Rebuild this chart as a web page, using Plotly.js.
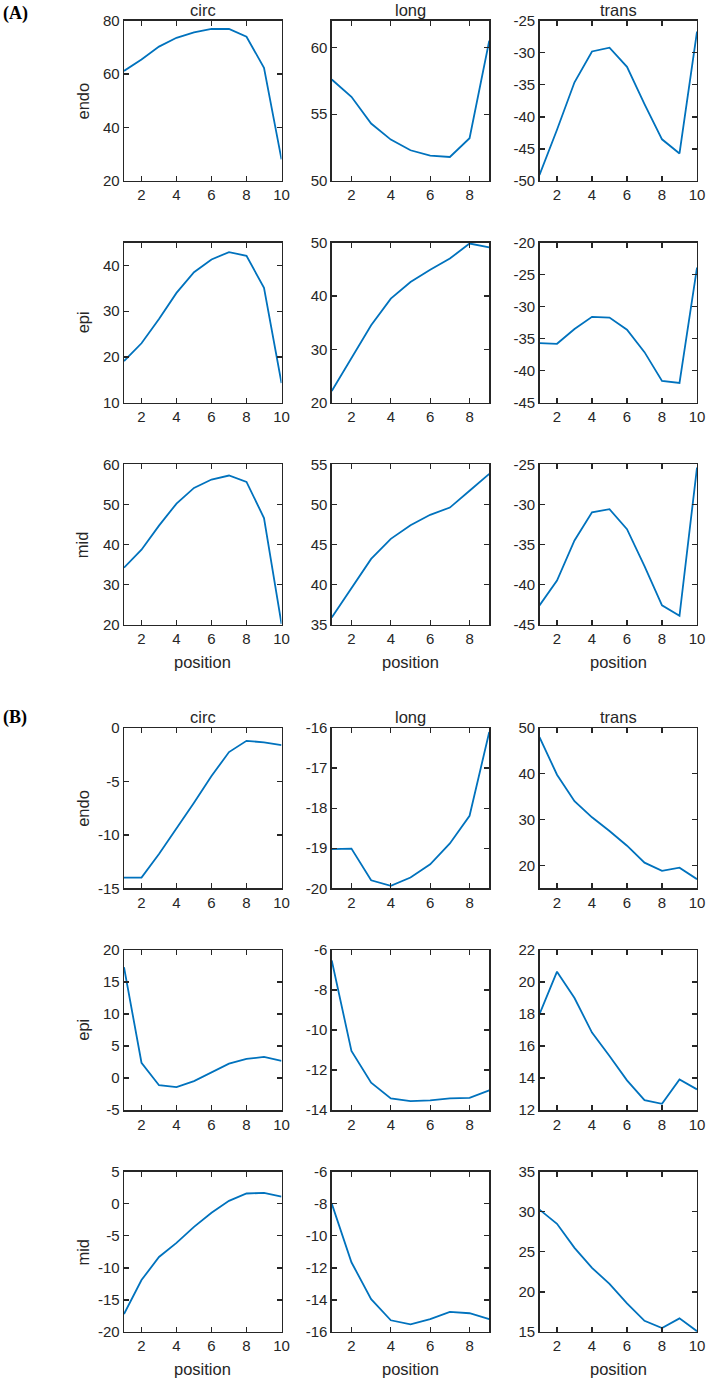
<!DOCTYPE html>
<html>
<head>
<meta charset="utf-8">
<script src="https://cdn.plot.ly/plotly-3.0.1.min.js"></script>
<style>html,body{margin:0;padding:0;background:#fff}</style>
</head>
<body>
<div id="chart" style="width:709px;height:1381px"></div>
<script>
// ---------- data ----------
const pos10 = [1, 2, 3, 4, 5, 6, 7, 8, 9, 10];
const pos9 = [1, 2, 3, 4, 5, 6, 7, 8, 9];

const columnNames = ["circ", "long", "trans"];
const rowNames = ["endo", "epi", "mid"];
const panelLabels = ["(A)", "(B)"];
const xLabel = "position";

// Panel (A)
const A_endo_circ  = [61.2, 65.5, 70.3, 73.6, 75.6, 76.9, 76.9, 74.0, 62.4, 28.1];
const A_endo_long  = [57.6, 56.3, 54.3, 53.1, 52.3, 51.9, 51.8, 53.2, 60.5];
const A_endo_trans = [-49.05, -42.0, -34.6, -29.8, -29.2, -32.2, -38.0, -43.5, -45.7, -26.7];
const A_epi_circ   = [19.1, 23.0, 28.3, 34.0, 38.5, 41.3, 42.9, 42.1, 35.1, 14.3];
const A_epi_long   = [22.2, 28.4, 34.5, 39.5, 42.6, 44.9, 47.0, 49.8, 49.1];
const A_epi_trans  = [-35.7, -35.8, -33.5, -31.6, -31.7, -33.6, -37.1, -41.6, -41.9, -23.9];
const A_mid_circ   = [34.2, 38.7, 44.7, 50.2, 54.1, 56.2, 57.2, 55.6, 46.6, 20.2];
const A_mid_long   = [35.9, 39.6, 43.2, 45.7, 47.4, 48.7, 49.6, 51.7, 53.8];
const A_mid_trans  = [-42.6, -39.5, -34.5, -31.0, -30.6, -33.1, -37.7, -42.6, -43.9, -25.4];

// Panel (B)
const B_endo_circ  = [-14.0, -14.0, -11.8, -9.45, -7.0, -4.5, -2.25, -1.2, -1.35, -1.6];
const B_endo_long  = [-19.02, -19.01, -19.8, -19.94, -19.73, -19.4, -18.88, -18.19, -16.1];
const B_endo_trans = [48.0, 39.8, 34.0, 30.5, 27.5, 24.3, 20.6, 18.8, 19.5, 17.0];
const B_epi_circ   = [17.3, 2.4, -1.1, -1.4, -0.46, 0.95, 2.25, 3.0, 3.3, 2.7];
const B_epi_long   = [-6.53, -11.04, -12.63, -13.41, -13.55, -13.51, -13.41, -13.38, -13.01];
const B_epi_trans  = [17.99, 20.64, 19.0, 16.84, 15.38, 13.86, 12.63, 12.4, 13.92, 13.3];
const B_mid_circ   = [-17.2, -11.9, -8.3, -6.1, -3.6, -1.4, 0.45, 1.6, 1.7, 1.1];
const B_mid_long   = [-7.99, -11.65, -13.95, -15.27, -15.52, -15.2, -14.74, -14.83, -15.2];
const B_mid_trans  = [30.27, 28.5, 25.5, 23.0, 21.0, 18.56, 16.4, 15.5, 16.7, 15.1];

// x ticks
const xTicks10 = [2, 4, 6, 8, 10];
const xTicks9 = [2, 4, 6, 8];

// y axis limits and ticks per panel
const yLim_A_endo_circ = [20, 80],   yTicks_A_endo_circ = [20, 40, 60, 80];
const yLim_A_endo_long = [50, 62],   yTicks_A_endo_long = [50, 55, 60];
const yLim_A_endo_trans = [-50, -25], yTicks_A_endo_trans = [-50, -45, -40, -35, -30, -25];
const yLim_A_epi_circ = [10, 45],    yTicks_A_epi_circ = [10, 20, 30, 40];
const yLim_A_epi_long = [20, 50],    yTicks_A_epi_long = [20, 30, 40, 50];
const yLim_A_epi_trans = [-45, -20], yTicks_A_epi_trans = [-45, -40, -35, -30, -25, -20];
const yLim_A_mid_circ = [20, 60],    yTicks_A_mid_circ = [20, 30, 40, 50, 60];
const yLim_A_mid_long = [35, 55],    yTicks_A_mid_long = [35, 40, 45, 50, 55];
const yLim_A_mid_trans = [-45, -25], yTicks_A_mid_trans = [-45, -40, -35, -30, -25];
const yLim_B_endo_circ = [-15, 0],   yTicks_B_endo_circ = [-15, -10, -5, 0];
const yLim_B_endo_long = [-20, -16], yTicks_B_endo_long = [-20, -19, -18, -17, -16];
const yLim_B_endo_trans = [15, 50],  yTicks_B_endo_trans = [20, 30, 40, 50];
const yLim_B_epi_circ = [-5, 20],    yTicks_B_epi_circ = [-5, 0, 5, 10, 15, 20];
const yLim_B_epi_long = [-14, -6],   yTicks_B_epi_long = [-14, -12, -10, -8, -6];
const yLim_B_epi_trans = [12, 22],   yTicks_B_epi_trans = [12, 14, 16, 18, 20, 22];
const yLim_B_mid_circ = [-20, 5],    yTicks_B_mid_circ = [-20, -15, -10, -5, 0, 5];
const yLim_B_mid_long = [-16, -6],   yTicks_B_mid_long = [-16, -14, -12, -10, -8, -6];
const yLim_B_mid_trans = [15, 35],   yTicks_B_mid_trans = [15, 20, 25, 30, 35];

// ---------- panel table (row-major: 6 rows x 3 cols) ----------
const panels = [
  [pos10, A_endo_circ, yLim_A_endo_circ, yTicks_A_endo_circ],
  [pos9,  A_endo_long, yLim_A_endo_long, yTicks_A_endo_long],
  [pos10, A_endo_trans, yLim_A_endo_trans, yTicks_A_endo_trans],
  [pos10, A_epi_circ, yLim_A_epi_circ, yTicks_A_epi_circ],
  [pos9,  A_epi_long, yLim_A_epi_long, yTicks_A_epi_long],
  [pos10, A_epi_trans, yLim_A_epi_trans, yTicks_A_epi_trans],
  [pos10, A_mid_circ, yLim_A_mid_circ, yTicks_A_mid_circ],
  [pos9,  A_mid_long, yLim_A_mid_long, yTicks_A_mid_long],
  [pos10, A_mid_trans, yLim_A_mid_trans, yTicks_A_mid_trans],
  [pos10, B_endo_circ, yLim_B_endo_circ, yTicks_B_endo_circ],
  [pos9,  B_endo_long, yLim_B_endo_long, yTicks_B_endo_long],
  [pos10, B_endo_trans, yLim_B_endo_trans, yTicks_B_endo_trans],
  [pos10, B_epi_circ, yLim_B_epi_circ, yTicks_B_epi_circ],
  [pos9,  B_epi_long, yLim_B_epi_long, yTicks_B_epi_long],
  [pos10, B_epi_trans, yLim_B_epi_trans, yTicks_B_epi_trans],
  [pos10, B_mid_circ, yLim_B_mid_circ, yTicks_B_mid_circ],
  [pos9,  B_mid_long, yLim_B_mid_long, yTicks_B_mid_long],
  [pos10, B_mid_trans, yLim_B_mid_trans, yTicks_B_mid_trans]
];

// ---------- geometry (pixels) ----------
const W = 709, H = 1381;
const colLeft = [124, 331.75, 539.5];
const colWidth = 157.5;
const rowTop = [20.7, 242.5, 464.3, 728, 949.9, 1171.7];
const rowHeight = 160.3;
const fx = px => px / W;
const fy = px => 1 - px / H;

const axisColor = '#262626';
const tickFont = {family: 'Liberation Sans, Arial, sans-serif', size: 15, color: axisColor};
const labelFont = {family: 'Liberation Sans, Arial, sans-serif', size: 16.5, color: axisColor};

const traces = [];
const layout = {
  width: W, height: H,
  margin: {l: 0, r: 0, t: 0, b: 0},
  paper_bgcolor: '#ffffff', plot_bgcolor: '#ffffff',
  showlegend: false,
  annotations: []
};

panels.forEach((p, i) => {
  const row = Math.floor(i / 3), col = i % 3;
  const n = i + 1;
  const xs = n === 1 ? '' : String(n);
  const xTicks = p[0].length === 9 ? xTicks9 : xTicks10;
  traces.push({
    type: 'scatter', mode: 'lines',
    x: p[0], y: p[1],
    xaxis: 'x' + xs, yaxis: 'y' + xs,
    line: {color: '#0072BD', width: 1.8},
    hoverinfo: 'skip'
  });
  const common = {
    ticks: 'inside', ticklen: 5, tickwidth: 1.3, tickcolor: axisColor,
    showline: true, linecolor: axisColor, linewidth: 1.3, mirror: 'ticks',
    showgrid: false, zeroline: false, tickfont: tickFont, fixedrange: true
  };
  layout['xaxis' + xs] = Object.assign({}, common, {
    domain: [fx(colLeft[col]), fx(colLeft[col] + colWidth)],
    range: [p[0][0], p[0][p[0].length - 1]],
    tickmode: 'array', tickvals: xTicks, ticktext: xTicks.map(String),
    anchor: 'y' + xs
  });
  layout['yaxis' + xs] = Object.assign({}, common, {
    domain: [fy(rowTop[row] + rowHeight), fy(rowTop[row])],
    range: p[2],
    tickmode: 'array', tickvals: p[3], ticktext: p[3].map(String),
    anchor: 'x' + xs
  });
});

// column titles
[0, 3].forEach(r => {
  columnNames.forEach((name, c) => {
    layout.annotations.push({
      text: name, xref: 'paper', yref: 'paper',
      x: fx(colLeft[c] + colWidth / 2), y: fy(rowTop[r] - 10.5),
      xanchor: 'center', yanchor: 'middle', showarrow: false, font: labelFont
    });
  });
});
// row labels
rowTop.forEach((t, r) => {
  layout.annotations.push({
    text: rowNames[r % 3], xref: 'paper', yref: 'paper',
    x: fx(82.7), y: fy(t + rowHeight / 2), textangle: -90,
    xanchor: 'center', yanchor: 'middle', showarrow: false, font: labelFont
  });
});
// x labels
[2, 5].forEach(r => {
  colLeft.forEach(l => {
    layout.annotations.push({
      text: xLabel, xref: 'paper', yref: 'paper',
      x: fx(l + colWidth / 2), y: fy(rowTop[r] + rowHeight + 37),
      xanchor: 'center', yanchor: 'middle', showarrow: false, font: labelFont
    });
  });
});
// panel labels
[0, 3].forEach((r, k) => {
  layout.annotations.push({
    text: '<b>' + panelLabels[k] + '</b>', xref: 'paper', yref: 'paper',
    x: fx(1), y: fy(k === 0 ? 14 : 717),
    xanchor: 'left', yanchor: 'middle', showarrow: false,
    font: {family: 'Liberation Serif, Times New Roman, serif', size: 18, color: '#000'}
  });
});

Plotly.newPlot('chart', traces, layout, {staticPlot: true, displayModeBar: false});
</script>
</body>
</html>
